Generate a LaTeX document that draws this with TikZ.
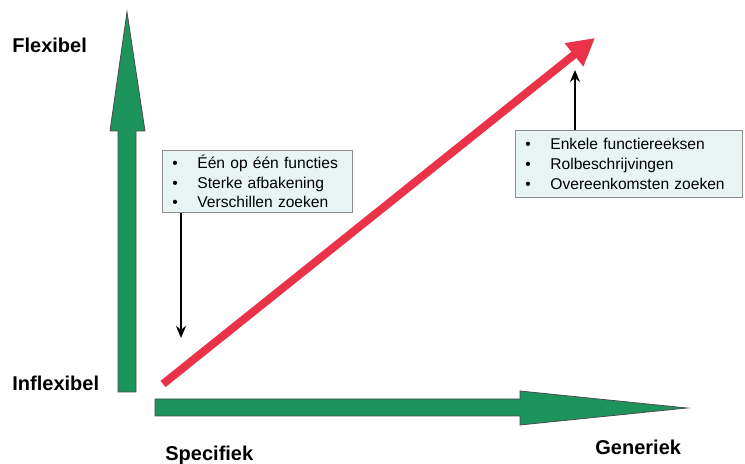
\documentclass[tikz,border=0pt]{standalone}
\usepackage{fontspec}
\setmainfont{Liberation Sans}
\usepackage{xcolor}
\usetikzlibrary{arrows.meta, positioning, calc}

\definecolor{axisgreen}{RGB}{28,148,92}
\definecolor{trendred}{RGB}{234,50,72}
\definecolor{boxfill}{RGB}{232,244,244}
\definecolor{boxline}{RGB}{140,140,140}

\newcommand{\bitem}[1]{\makebox[12.5pt][l]{\textbullet}#1\\}

\begin{document}
\begin{tikzpicture}[x=0.5pt, y=-0.5pt, >=Stealth,
    axislabel/.style={font=\fontsize{10}{12}\selectfont\bfseries, anchor=west, inner sep=0pt},
    infobox/.style={draw=boxline, fill=boxfill, anchor=north west, inner xsep=5pt, inner ysep=0pt,
        align=left, font=\fontsize{7.8}{9.8}\selectfont},
    blockarrow/.style={fill=axisgreen, draw=black!70, line width=0.4pt},
    pointer/.style={->, line width=1.1pt, >={Stealth[length=6pt, width=5pt]}}]
    \useasboundingbox (0,0) rectangle (745,464);

    % axes as block arrows
    \draw[blockarrow] (118,392) -- (118,131) -- (110,131) -- (127,12) -- (145,131) -- (136,131) -- (136,392) -- cycle;
    \draw[blockarrow] (155,399) -- (520,399) -- (520,391) -- (687,408) -- (520,425) -- (520,416) -- (155,416) -- cycle;

    \node[axislabel] (flex) at (12,45) {Flexibel};
    \node[axislabel] (inflex) at (12,383) {Inflexibel};
    \node[axislabel] (spec) at (165,455) {Specifiek};
    \node[axislabel] (gen) at (595,447) {Generiek};

    % trend
    \coordinate (start) at (163,384);
    \coordinate (end) at (595,38);
    \draw[trendred, line width=4pt, -{Triangle[length=13.5pt, width=14pt]}] (start) -- (end);

    % boxes
    \node[infobox, text width=85pt, minimum height=31pt] (specbox) at (162,150)
        {\bitem{Één op één functies}\bitem{Sterke afbakening}\bitem{Verschillen zoeken}};
    \node[infobox, text width=103.5pt, minimum height=33.5pt] (genbox) at (515,130)
        {\bitem{Enkele functiereeksen}\bitem{Rolbeschrijvingen}\bitem{Overeenkomsten zoeken}};

    \coordinate (lowtip) at (181,338);
    \coordinate (genfoot) at (575,70);
    \draw[pointer] (specbox.south -| lowtip) -- (lowtip);
    \draw[pointer] (genbox.north -| genfoot) -- (genfoot);
\end{tikzpicture}
\end{document}
